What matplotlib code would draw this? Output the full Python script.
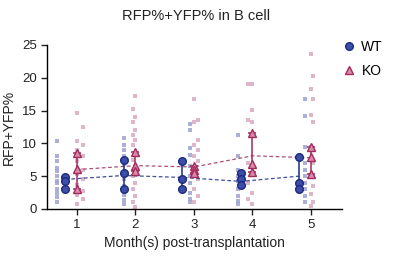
import matplotlib
matplotlib.use("Agg")
import matplotlib.pyplot as plt
import numpy as np
from matplotlib.lines import Line2D

plt.rcParams['font.family'] = ['Liberation Sans', 'DejaVu Sans']

months = [1, 2, 3, 4, 5]
month_labels = ["1", "2", "3", "4", "5"]

# individual points (light squares)
wt_points = [
    [10.4, 8.0, 7.3, 6.3, 5.8, 5.0, 4.3, 3.9, 3.1, 2.5, 1.8, 1.0],
    [10.8, 9.8, 9.0, 8.0, 7.3, 6.8, 5.5, 4.5, 3.5, 2.8, 2.1, 1.4, 0.75],
    [13.0, 12.0, 9.3, 8.3, 6.5, 5.0, 4.0, 2.5, 1.5, 1.0],
    [11.3, 8.0, 6.0, 5.0, 4.2, 3.0, 2.0, 1.25, 0.75],
    [16.8, 14.2, 9.5, 7.0, 6.0, 5.0, 4.0, 3.0, 2.0, 1.0],
]
ko_points = [
    [14.6, 12.5, 10.3, 9.8, 9.0, 8.1, 7.3, 6.0, 5.3, 4.5, 3.6, 2.8, 2.1, 1.5, 0.75],
    [17.2, 15.3, 14.0, 13.3, 12.0, 11.3, 10.5, 9.8, 8.5, 7.5, 6.5, 5.0, 4.0, 3.0, 2.0, 1.0, 0.25],
    [16.8, 13.5, 13.3, 10.5, 9.8, 9.0, 8.0, 7.3, 6.0, 4.5, 3.0, 2.0, 1.0],
    [19.1, 19.1, 15.1, 13.5, 13.2, 7.0, 5.5, 4.0, 2.5, 1.5, 0.75],
    [23.6, 20.3, 18.3, 16.8, 14.3, 13.3, 9.5, 7.0, 5.0, 3.5, 2.3, 1.0, 0.5],
]

# summary markers (3 per group)
wt_summary = [
    [4.8, 4.3, 3.0],
    [7.4, 5.5, 3.1],
    [7.3, 4.6, 3.0],
    [5.5, 4.5, 3.6],
    [7.9, 4.0, 3.1],
]
ko_summary = [
    [8.6, 6.1, 3.1],
    [8.7, 6.5, 5.8],
    [6.5, 6.0, 5.5],
    [11.6, 6.9, 5.6],
    [9.4, 7.9, 5.3],
]

wt_mean = [4.5, 5.1, 4.8, 4.2, 5.0]
ko_mean = [6.0, 6.6, 6.4, 8.1, 7.8]

fig = plt.figure(figsize=(3.96, 2.57), dpi=100)
ax = fig.add_axes([0.1187, 0.187, 0.745, 0.638])

wt_off = -0.2
ko_off = 0.0

wt_light = '#9ea2d0'
ko_light = '#d9a9c0'
wt_dark = '#3c4ea8'
wt_edge = '#1c2a80'
ko_fill = '#d98aaa'
ko_edge = '#a32a5c'


def jitter(n, k):
    return np.array([(((i * 7 + k * 3) % 7) - 3) * 0.045 for i in range(n)])

for k, m in enumerate(months):
    wp = np.array(wt_points[k])
    kp = np.array(ko_points[k])
    ax.scatter(m + wt_off + jitter(len(wp), k), wp, marker='s', s=6,
               color=wt_light, alpha=0.85, linewidths=0, zorder=1)
    kj = jitter(len(kp), k + 2) * 0.8
    kj[::2] = 0
    ax.scatter(m + ko_off + kj, kp, marker='s', s=6,
               color=ko_light, alpha=0.85, linewidths=0, zorder=1)

# dashed mean lines
ax.plot(np.array(months) + wt_off, wt_mean, ls=(0, (3, 2)), color='#3f4f9a', lw=0.9, zorder=2)
ax.plot(np.array(months) + ko_off, ko_mean, ls=(0, (3, 2)), color='#a9527a', lw=0.9, zorder=2)

for k, m in enumerate(months):
    ws = wt_summary[k]
    ks = ko_summary[k]
    wc = (max(ws) + min(ws)) / 2
    kc = (max(ks) + min(ks)) / 2
    ax.errorbar([m + wt_off], [wc], yerr=[[wc - min(ws)], [max(ws) - wc]],
                fmt='none', ecolor=wt_edge, elinewidth=1.1, capsize=3, capthick=1.1, zorder=3)
    ax.errorbar([m + ko_off], [kc], yerr=[[kc - min(ks)], [max(ks) - kc]],
                fmt='none', ecolor=ko_edge, elinewidth=1.1, capsize=3, capthick=1.1, zorder=3)
    ax.plot([m + wt_off] * len(ws), ws, 'o', ms=5.5, mfc=wt_dark, mec=wt_edge, mew=1.0, ls='none', zorder=4)
    ax.plot([m + ko_off] * len(ks), ks, '^', ms=5.5, mfc=ko_fill, mec=ko_edge, mew=1.0, ls='none', zorder=4)

ax.set_xlim(0.49, 5.53)
ax.set_ylim(0, 25)
ax.set_yticks([0, 5, 10, 15, 20, 25])
ax.set_xticks(months)
ax.set_xticklabels(month_labels)
for s in ['top', 'right']:
    ax.spines[s].set_visible(False)
for s in ['left', 'bottom']:
    ax.spines[s].set_linewidth(1.0)
ax.tick_params(direction='out', length=4, width=1.0, labelsize=9.5, colors='#222222')
ax.set_xlabel('Month(s) post-transplantation', fontsize=10, color='#222222', labelpad=3)
ax.set_ylabel('RFP+YFP%', fontsize=10, color='#222222', labelpad=4)
fig.suptitle('RFP%+YFP% in B cell', x=0.495, y=0.965, fontsize=10.5, color='#222222')

handles = [Line2D([], [], marker='o', ls='none', ms=5.5, mfc=wt_dark, mec=wt_edge, mew=1.0),
           Line2D([], [], marker='^', ls='none', ms=5.5, mfc=ko_fill, mec=ko_edge, mew=1.0)]
fig.legend(handles, ['WT', 'KO'], loc='upper left', bbox_to_anchor=(0.86, 0.855),
           frameon=False, fontsize=10, handletextpad=0.5, labelspacing=0.7,
           handlelength=0.8, borderaxespad=0, borderpad=0.2)

fig.savefig('out.png', dpi=100)
